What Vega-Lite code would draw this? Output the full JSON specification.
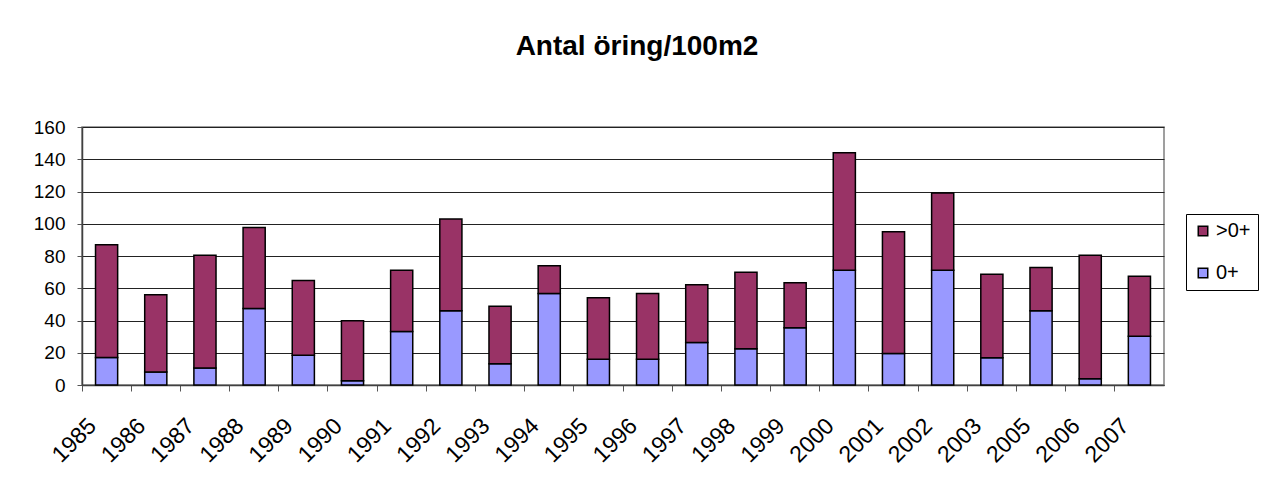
{
  "$schema": "https://vega.github.io/schema/vega-lite/v6.json",
  "autosize": {"type": "none"},
  "padding": {"left": 82, "top": 127, "right": 97, "bottom": 103},
  "width": 1082,
  "height": 258,
  "background": "white",
  "title": {
    "text": "Antal öring/100m2",
    "font": "Liberation Sans",
    "fontSize": 28,
    "fontWeight": "bold",
    "color": "black",
    "anchor": "middle",
    "frame": "group",
    "baseline": "alphabetic",
    "offset": 35,
    "dx": 14
  },
  "data": {
    "values": [
      {"year": "1985", "series": "0+", "value": 17},
      {"year": "1985", "series": ">0+", "value": 70},
      {"year": "1986", "series": "0+", "value": 8},
      {"year": "1986", "series": ">0+", "value": 48},
      {"year": "1987", "series": "0+", "value": 10.5},
      {"year": "1987", "series": ">0+", "value": 70},
      {"year": "1988", "series": "0+", "value": 47.5},
      {"year": "1988", "series": ">0+", "value": 50.1},
      {"year": "1989", "series": "0+", "value": 18.4},
      {"year": "1989", "series": ">0+", "value": 46.4},
      {"year": "1990", "series": "0+", "value": 2.7},
      {"year": "1990", "series": ">0+", "value": 37.1},
      {"year": "1991", "series": "0+", "value": 33.2},
      {"year": "1991", "series": ">0+", "value": 38},
      {"year": "1992", "series": "0+", "value": 46},
      {"year": "1992", "series": ">0+", "value": 57},
      {"year": "1993", "series": "0+", "value": 13.2},
      {"year": "1993", "series": ">0+", "value": 35.7},
      {"year": "1994", "series": "0+", "value": 56.8},
      {"year": "1994", "series": ">0+", "value": 17.1},
      {"year": "1995", "series": "0+", "value": 15.9},
      {"year": "1995", "series": ">0+", "value": 38.2},
      {"year": "1996", "series": "0+", "value": 15.9},
      {"year": "1996", "series": ">0+", "value": 40.9},
      {"year": "1997", "series": "0+", "value": 26.4},
      {"year": "1997", "series": ">0+", "value": 35.7},
      {"year": "1998", "series": "0+", "value": 22.5},
      {"year": "1998", "series": ">0+", "value": 47.5},
      {"year": "1999", "series": "0+", "value": 35.5},
      {"year": "1999", "series": ">0+", "value": 27.9},
      {"year": "2000", "series": "0+", "value": 71.2},
      {"year": "2000", "series": ">0+", "value": 72.9},
      {"year": "2001", "series": "0+", "value": 19.6},
      {"year": "2001", "series": ">0+", "value": 75.5},
      {"year": "2002", "series": "0+", "value": 71.2},
      {"year": "2002", "series": ">0+", "value": 47.9},
      {"year": "2003", "series": "0+", "value": 16.9},
      {"year": "2003", "series": ">0+", "value": 51.8},
      {"year": "2005", "series": "0+", "value": 46},
      {"year": "2005", "series": ">0+", "value": 26.9},
      {"year": "2006", "series": "0+", "value": 3.9},
      {"year": "2006", "series": ">0+", "value": 76.6},
      {"year": "2007", "series": "0+", "value": 30.3},
      {"year": "2007", "series": ">0+", "value": 37.2}
    ]
  },
  "mark": {
    "type": "bar",
    "width": {"band": 0.45},
    "stroke": "black",
    "strokeWidth": 1.5
  },
  "encoding": {
    "x": {
      "field": "year",
      "type": "nominal",
      "sort": null,
      "scale": {"paddingInner": 0, "paddingOuter": 0},
      "axis": {
        "title": null,
        "bandPosition": 0,
        "labelAngle": -45,
        "labelAlign": "right",
        "labelBaseline": "middle",
        "labelOffset": -14,
        "labelPadding": 31,
        "labelFont": "Liberation Sans",
        "labelFontSize": 23,
        "labelColor": "black",
        "tickSize": 6,
        "tickColor": "#555555",
        "domainColor": "#404040",
        "domainWidth": 1.5,
        "grid": false
      }
    },
    "y": {
      "field": "value",
      "type": "quantitative",
      "stack": "zero",
      "scale": {"domain": [0, 160], "nice": false},
      "axis": {
        "title": null,
        "values": [0, 20, 40, 60, 80, 100, 120, 140, 160],
        "labelFont": "Liberation Sans",
        "labelFontSize": 19,
        "labelColor": "black",
        "labelPadding": 12,
        "tickSize": 5,
        "tickColor": "#555555",
        "domainColor": "#404040",
        "domainWidth": 1.5,
        "grid": true,
        "gridColor": "#222222",
        "gridWidth": 1
      }
    },
    "color": {
      "field": "series",
      "type": "nominal",
      "scale": {"domain": [">0+", "0+"], "range": ["#993366", "#9999FF"]},
      "legend": {
        "title": null,
        "orient": "none",
        "legendX": 1104,
        "legendY": 87,
        "padding": 7,
        "strokeColor": "black",
        "fillColor": "white",
        "symbolType": "square",
        "symbolSize": 90,
        "symbolStrokeColor": "black",
        "symbolStrokeWidth": 1.5,
        "labelFont": "Liberation Sans",
        "labelFontSize": 20,
        "labelColor": "black",
        "labelOffset": 3,
        "rowPadding": 22
      }
    },
    "order": {"field": "series", "sort": "ascending"}
  },
  "config": {
    "view": {"stroke": "#808080", "strokeWidth": 1.5},
    "font": "Liberation Sans"
  }
}
